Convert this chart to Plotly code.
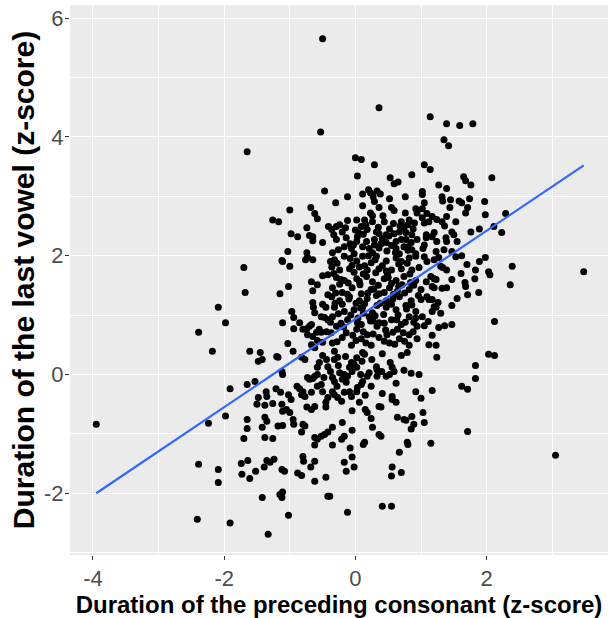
import plotly.graph_objects as go

# Standardised durations: preceding consonant (x) vs last vowel (y)
cons_z = [
    -0.47, -1.0, -0.68, -0.62, -0.58, -1.26, -1.17, -0.98, -0.88, -0.74, -0.70, -0.65, -0.65, -0.50, -0.41, -1.03, -0.74,
    0.0, 0.09, 0.29, 0.03, 0.86, 0.53, 0.59, 0.65, -0.12, -0.30, 0.11, 0.20, 0.23, 0.33, 0.38, 0.27, 0.29, 0.76, 0.52, 0.11,
    0.36, 0.55, 0.59, 0.92, 0.94, 0.23, 0.26, 0.42, 0.76, 0.02, 0.14, -0.12, -0.24, -0.29, -0.36, 0.09, 0.26, 0.44, 0.58,
    0.70, 0.82, 0.80, 0.88, 0.18, 0.32, 0.36, 0.47, 0.59, 0.67, 0.77, 0.86, -0.29, -0.14, 0.03, 0.02, 0.17, 0.29, 0.41, 0.47,
    0.62, 0.70, 0.77, 0.85, 0.94, -0.17, -0.06, 0.11, 0.21, 0.36, 0.48, 0.62, 0.74, 0.86, -0.35, -0.02, 0.26, 0.67, 0.92,
    1.05, 1.14, 1.65, 1.68, 1.76, 2.08, 1.27, 1.39, 1.02, 1.02, 1.32, 1.33, 1.45, 1.58, 1.62, 1.74, 1.97, 1.05, 1.44, 1.71,
    1.68, 1.02, 1.09, 1.17, 1.24, 1.32, 1.39, 1.02, 1.05, 1.12, 1.53, 1.98, 1.36, 2.29, 1.89, 2.11, 2.23, 1.76, 1.47, 1.50,
    1.20, 1.17, 1.08, 1.38, 1.39, 1.55, 1.05, 1.08, 1.24, 1.23, 1.35, 1.47, 1.03,
    -1.70, -1.12, -1.11, -1.0, -0.76, -0.73, -0.65, -0.50, -0.42, -0.67, -0.58, -1.02, -0.65, -1.68, -1.15, -0.42, -0.65,
    -0.50, -0.45, -0.64, -0.62, -0.97, -0.94, -0.52, -0.47, -0.42, -1.11, -0.85, -0.94, -0.80, -0.74, -0.70, -0.67, -0.55,
    -0.52, -0.73, -0.65, -0.59, -0.44, -0.58, -0.50, -1.03, -0.67, -0.62,
    -0.32, -0.17, 0.02, 0.11, 0.32, 0.47, 0.62, 0.82, 0.92,
    -0.36, -0.24, -0.09, 0.06, 0.18, 0.36, 0.55, 0.70, 0.86,
    -0.29, -0.17, 0.02, 0.17, 0.26, 0.44, 0.62, 0.74, 0.92,
    -0.35, -0.20, -0.05, 0.09, 0.24, 0.36, 0.52, 0.64, 0.82,
    -0.36, -0.24, -0.09, 0.06, 0.18, 0.32, 0.47, 0.67, 0.85,
    -0.32, -0.17, -0.02, 0.11, 0.26, 0.47, 0.62, 0.77, 0.92,
    -0.35, -0.12, 0.03, 0.21, 0.36, 0.55, 0.70, 0.82,
    -0.29, -0.14, 0.02, 0.18, 0.33, 0.48, 0.64, 0.82, 0.94,
    -0.35, -0.20, -0.06, 0.09, 0.24, 0.36, 0.52, 0.67, 0.82, 0.94,
    -0.28, -0.05, 0.24, 0.41, 0.66, 0.79,
    -0.33, -0.02, 0.12, 0.31, 0.49, 0.83,
    -0.24, -0.11, 0.07, 0.35, 0.55, 0.71, 0.89,
    -0.30, -0.12, 0.19, 0.44, 0.58, 0.75,
    -0.20, 0.01, 0.14, 0.38, 0.55, 0.86,
    -0.26, -0.07, 0.12, 0.30, 0.43, 0.65, 0.92,
    -0.38, -0.22, 0.09, 0.27, 0.44, 0.76,
    -0.37, -0.04, 0.12, 0.27, 0.57, 0.73, 0.88,
    -0.28, 0.01, 0.16, 0.44, 0.60, 0.75,
    -0.20, 0.0, 0.12, 0.52, 0.74, -0.08, 0.55, 0.80, 0.29,
    -0.33, -0.15, 0.05, 0.16, 0.35, 0.51, 0.68, 0.90, -0.26, -0.03, 0.20, 0.39, 0.61, 0.80,
    -0.38, -0.08, 0.14, 0.30, 0.47, 0.70, 0.97, -0.22, 0.06, 0.28, 0.50, 0.66, 0.84,
    -0.31, -0.10, 0.08, 0.33, 0.57, 0.78, 0.96, -0.18, 0.04, 0.23, 0.46, 0.63, 0.89,
    1.05, 1.09, 1.20, 1.27, 1.53, 1.62, 1.98, 1.89, 1.70, 1.30, 1.33, 1.39, 1.83, 2.03, 2.05, 1.15, 1.20, 1.23, 1.47, 1.61,
    1.82, 1.08, 1.67, 1.68, 1.17, 1.20, 1.32, 1.39, 1.0, 1.71, 1.88, 1.55, 1.09, 1.12, 1.17, 1.0, 1.26, 1.20, 1.23, 1.47,
    1.17, 1.30, 1.02, 1.11, 1.05, 1.27, 1.36, 1.47, 1.17, 1.12, 1.23,
    -1.61, -1.45, -1.48, -1.42, -1.20, -1.18, -0.95, -0.82, -0.77, -0.55, -0.44, -0.42, -1.12, -1.11, -1.65, -1.53, -1.36,
    -1.21, -1.14, -1.02, -0.98, -0.89, -0.85, -0.80, -0.82, -0.77, -0.70, -0.65, -0.58, -0.52, -0.67, -0.50, -0.45, -0.42,
    -1.48, -1.35, -1.50, -1.38, -1.26, -1.12, -1.11, -1.05, -1.0, -0.74, -0.67, -0.62, -0.45, -1.65, -1.38, -1.35, -1.18,
    -1.11, -0.95, -0.94, -0.80, -0.77, -1.65, -1.42, -1.38, -1.26, -1.70, -0.82, -0.62, -0.58, -0.52, -0.47, -0.42, -0.58,
    -0.58, -0.62, -0.73, -0.50, -0.38, -0.48,
    -0.32, -0.27, -0.32, 0.11, 0.14, 0.41, 0.70, 0.79, -0.06, -0.02, -0.09, 0.02, 0.32, 0.33, 0.53, 0.56, 0.59, 0.74, 0.85,
    -0.24, -0.17, -0.20, -0.12, -0.14, -0.35, -0.32, 0.21, 0.18, 0.11, 0.09, 0.03, 0.33, 0.47, 0.52, 0.24, 0.62, 0.92,
    -0.35, -0.32, -0.27, -0.21, -0.17, -0.09, 0.02, -0.06, 0.06, 0.41, 0.56, 0.56, 0.62, -0.05, 0.15, 0.18, 0.36, 0.39,
    0.64, 0.74, 0.77, 0.86, 0.89, 0.24, -0.20, -0.35, -0.05, 0.26, 0.85, -0.17, -0.21, 0.36, 0.39, 0.14, 0.79,
    -0.15, 0.02, -0.26, 0.10, 0.25, -0.05, 0.08, 0.40, -0.28, 0.15,
    1.24, 2.12, 1.83, 0.97, 1.83, 1.62, 1.71, 1.17, 1.0, 1.03, 1.05, 1.71, 1.15,
    -1.64, -1.35, -1.30, -1.24, -1.39, -1.73, -1.52, -1.61, -1.12, -1.08, -0.80, -0.79, -0.62, -0.68, -0.88, -0.82, -0.62,
    -0.45, -0.62, -0.42, -1.15, -1.12, -1.11, -1.42, -1.02, -1.33,
    -0.35, -0.08, 0.12, 0.80, 0.67, -0.05, -0.17, -0.14, -0.02, 0.56, 0.70, 0.55, -0.39, 0.41, 0.55, -0.12,
    -3.95, -2.41, -1.91, -2.39, -2.39, -2.18, -2.09, -1.98, -1.91, -2.24, -1.98, -2.09, -2.09, -1.74, -1.65, -0.50, -0.53,
    0.36, 1.14, 1.39, 1.59, 1.79, 1.35, 1.42, 3.48, 3.05, 2.39, 2.36, 2.12, 2.03,
]

vowel_z = [
    3.09, 2.77, 2.81, 2.71, 2.62, 2.60, 2.57, 2.37, 2.32, 2.47, 2.34, 2.32, 2.25, 2.22, 2.49, 2.07, 2.05,
    3.65, 3.62, 3.53, 3.34, 3.36, 3.31, 3.21, 3.24, 2.99, 2.89, 3.04, 3.11, 3.06, 3.09, 3.04, 2.99, 2.91, 2.99, 2.96, 2.84,
    2.81, 2.81, 2.76, 2.79, 2.72, 2.72, 2.67, 2.67, 2.72, 2.60, 2.60, 2.59, 2.52, 2.49, 2.44, 2.49, 2.57, 2.57, 2.54,
    2.57, 2.60, 2.52, 2.45, 2.44, 2.40, 2.37, 2.35, 2.37, 2.40, 2.39, 2.35, 2.27, 2.30, 2.32, 2.24, 2.24, 2.27, 2.29, 2.22,
    2.24, 2.27, 2.27, 2.22, 2.27, 2.15, 2.12, 2.15, 2.12, 2.13, 2.08, 2.12, 2.15, 2.10, 2.05, 2.03, 2.05, 2.03, 2.03,
    3.53, 3.45, 3.33, 3.26, 3.19, 3.31, 3.19, 3.13, 3.08, 3.03, 2.99, 2.92, 2.94, 2.92, 2.89, 2.96, 2.91, 2.89, 2.81, 2.81,
    2.72, 2.79, 2.71, 2.66, 2.61, 2.57, 2.66, 2.64, 2.55, 2.57, 2.57, 2.69, 2.50, 2.71, 2.45, 2.49, 2.39, 2.40, 2.40, 2.35,
    2.39, 2.32, 2.35, 2.30, 2.24, 2.24, 2.18, 2.30, 2.24, 2.07, 2.10, 2.07, 2.12,
    1.80, 1.92, 1.90, 1.82, 1.93, 1.97, 1.93, 1.66, 1.68, 1.56, 1.51, 1.48, 1.41, 1.38, 1.36, 1.34, 1.21,
    1.18, 1.13, 1.13, 1.04, 1.06, 0.96, 0.97, 0.96, 0.92, 0.87, 0.87, 0.77, 0.76, 0.77, 0.81, 0.84, 0.76,
    0.71, 0.67, 0.64, 0.71, 0.72, 0.57, 0.54, 0.52, 0.50, 0.45,
    1.93, 1.99, 1.91, 1.99, 1.99, 1.91, 1.96, 1.96, 1.99,
    1.81, 1.76, 1.78, 1.81, 1.76, 1.78, 1.76, 1.78, 1.76,
    1.63, 1.58, 1.61, 1.65, 1.56, 1.61, 1.58, 1.65, 1.58,
    1.46, 1.38, 1.46, 1.36, 1.43, 1.36, 1.46, 1.40, 1.43,
    1.31, 1.24, 1.31, 1.24, 1.28, 1.33, 1.24, 1.31, 1.24,
    1.13, 1.06, 1.09, 1.13, 1.04, 1.13, 1.09, 1.16, 1.06,
    0.97, 0.92, 0.87, 0.97, 0.87, 0.92, 0.84, 0.97,
    0.81, 0.70, 0.76, 0.67, 0.81, 0.67, 0.76, 0.67, 0.81,
    0.53, 0.62, 0.49, 0.60, 0.49, 0.62, 0.53, 0.60, 0.49, 0.60,
    1.87, 1.84, 1.88, 1.83, 1.86, 1.87,
    1.70, 1.72, 1.69, 1.71, 1.68, 1.69,
    1.52, 1.54, 1.51, 1.50, 1.53, 1.51, 1.50,
    1.37, 1.35, 1.37, 1.38, 1.35, 1.37,
    1.18, 1.20, 1.19, 1.20, 1.18, 1.17,
    1.02, 1.00, 1.03, 0.99, 1.01, 1.00, 0.95,
    0.88, 0.86, 0.84, 0.90, 0.86, 0.88,
    0.70, 0.66, 0.72, 0.68, 0.71, 0.70, 0.72,
    0.55, 0.57, 0.53, 0.56, 0.51, 0.56,
    2.40, 2.43, 2.36, 2.45, 2.48, 2.20, 2.17, 2.15, 2.18,
    2.35, 2.47, 2.38, 2.52, 2.48, 2.33, 2.50, 2.55, 2.10, 2.18, 2.00, 2.20, 2.05, 2.09,
    1.90, 1.95, 1.83, 1.93, 1.74, 1.90, 1.80, 1.60, 1.57, 1.44, 1.63, 1.48, 1.55,
    1.20, 1.27, 1.12, 1.16, 1.27, 1.10, 1.33, 0.80, 0.95, 0.90, 0.75, 0.92, 0.88,
    1.98, 1.90, 1.93, 1.97, 1.98, 2.0, 1.97, 1.90, 1.85, 1.82, 1.80, 1.76, 1.76, 1.73, 1.68, 1.65, 1.61, 1.60, 1.60, 1.70,
    1.61, 1.56, 1.55, 1.48, 1.48, 1.46, 1.45, 1.46, 1.43, 1.34, 1.38, 1.28, 1.31, 1.26, 1.26, 1.26, 1.21, 1.14, 1.13, 1.16,
    1.06, 1.03, 0.97, 0.89, 0.82, 0.79, 0.82, 0.84, 0.66, 0.50, 0.49,
    0.39, 0.37, 0.22, 0.25, 0.30, 0.29, 0.39, 0.29, 0.25, 0.20, 0.25, 0.13, 0.05, 0.0, -0.17, -0.12, -0.29,
    -0.24, -0.30, -0.34, -0.42, -0.20, -0.24, -0.29, -0.34, -0.37, -0.08, -0.07, -0.20, -0.17, -0.30, -0.29, -0.47, -0.39,
    -0.39, -0.37, -0.50, -0.52, -0.49, -0.50, -0.62, -0.59, -0.64, -0.55, -0.59, -0.54, -0.55, -0.76, -0.72, -0.79, -0.87,
    -0.86, -0.76, -0.84, -0.84, -0.87, -0.91, -0.89, -1.06, -1.08, -1.08, -0.97, -1.06, -1.09, -1.04, -1.01, -0.97, 0.12,
    0.0, -0.03, -0.05, 0.32, 0.05, -0.05,
    0.39, 0.29, 0.25, 0.37, 0.34, 0.35, 0.32, 0.37, 0.20, 0.17, 0.12, 0.12, 0.13, 0.08, 0.20, 0.12, 0.05, 0.07, 0.02,
    0.03, 0.0, -0.08, -0.03, -0.13, -0.05, -0.12, 0.03, -0.03, -0.12, -0.17, -0.22, -0.03, -0.03, 0.0, -0.20, -0.15, -0.29,
    -0.29, -0.34, -0.39, -0.45, -0.30, -0.29, -0.29, -0.37, -0.47, -0.32, -0.37, -0.42, -0.47, -0.61, -0.59, -0.64, -0.54, -0.55,
    -0.72, -0.76, -0.77, -0.71, -0.84, -0.74, -0.81, -0.89, -0.94, -0.89, -0.92, -1.04, -1.09, -1.01, -1.04, -1.14, -1.14,
    0.30, 0.28, 0.15, 0.22, 0.25, 0.05, 0.0, 0.05, -0.20, -0.35,
    0.29, 0.32, 0.15, 0.0, -0.07, -0.20, -0.25, -0.27, -0.40, -0.64, -0.81, -0.96, -1.16,
    -1.45, -1.45, -1.48, -1.43, -1.56, -1.68, -1.63, -1.75, -1.60, -1.63, -1.38, -1.46, -1.46, -1.56, -1.66, -1.70, -1.19,
    -1.73, -1.80, -2.05, -2.02, -2.07, -1.98, -2.07, -2.37, -2.69,
    -1.19, -1.24, -1.18, -1.18, -1.31, -1.39, -1.48, -1.63, -1.56, -1.56, -1.65, -1.71, -2.05, -2.22, -2.22, -2.32,
    -0.84, -2.44, -2.50, -1.51, 0.71, 0.39, 1.13, 0.87, -0.24, -0.82, -0.70, -1.60, -1.82, -1.50, 3.75, 5.65, 4.08,
    4.49, 4.34, 4.22, 4.19, 4.22, 3.95, 3.85, 1.73, -1.36, 1.82, 1.51, 0.89, 0.34,
]

# Least-squares fit line, evaluated at the ends of the x data
fit_x = [-3.95, 3.48]
fit_y = [-2.0, 3.52]

x_ticks = [-4, -2, 0, 2]
y_ticks = [-2, 0, 2, 4, 6]

FONT = "Liberation Sans, Arial, sans-serif"

fig = go.Figure()
fig.add_trace(go.Scatter(
    x=cons_z, y=vowel_z, mode="markers",
    marker=dict(color="black", size=7, line=dict(width=0)),
    hoverinfo="skip", showlegend=False,
))
fig.add_trace(go.Scatter(
    x=fit_x, y=fit_y, mode="lines",
    line=dict(color="#3366FF", width=2.2),
    hoverinfo="skip", showlegend=False,
))

axis_common = dict(
    showgrid=True, gridcolor="white", gridwidth=1.1,
    minor=dict(showgrid=True, gridcolor="white", gridwidth=0.5),
    zeroline=False, showline=False,
    ticks="outside", ticklen=4, tickcolor="#333333", tickwidth=1,
    tickfont=dict(family=FONT, size=22, color="#4D4D4D"),
)

fig.update_xaxes(
    range=[-4.35, 3.85], tickvals=x_ticks, ticktext=[str(v) for v in x_ticks],
    minor_tickvals=[-3, -1, 1, 3],
    title=dict(text="<b>Duration of the preceding consonant (z-score)</b>",
               font=dict(family=FONT, size=24, color="black"),
               standoff=2),
    **axis_common,
)
fig.update_yaxes(
    range=[-3.04, 6.22], tickvals=y_ticks, ticktext=[str(v) for v in y_ticks],
    minor_tickvals=[-3, -1, 1, 3, 5],
    ticklabelstandoff=-3,
    title=dict(text="<b>Duration of the last vowel (z-score)</b>",
               font=dict(family=FONT, size=30, color="black"),
               standoff=0),
    **axis_common,
)
fig.update_layout(
    width=610, height=618,
    margin=dict(l=70, r=2, t=5, b=63),
    plot_bgcolor="#EBEBEB", paper_bgcolor="white",
)
fig.write_html("out.html")
